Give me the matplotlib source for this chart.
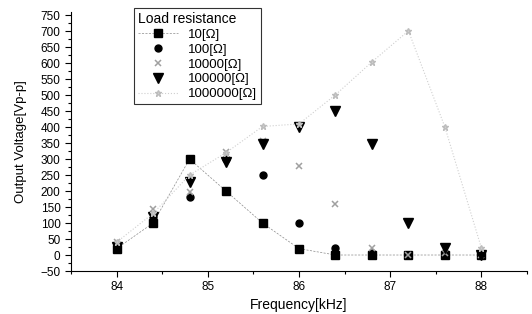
import matplotlib
matplotlib.use("Agg")
import matplotlib.pyplot as plt
from matplotlib.ticker import MultipleLocator

plt.rcParams['font.family'] = ['Liberation Sans', 'DejaVu Sans']

freq = [84.0, 84.4, 84.8, 85.2, 85.6, 86.0, 86.4, 86.8, 87.2, 87.6, 88.0]
v_10 = [20, 100, 300, 200, 100, 20, 0, 0, 0, 0, 0]
v_100 = [25, 120, 180, 300, 250, 100, 22, 5, 0, 5, 0]
v_10000 = [40, 145, 197, 323, 358, 278, 158, 22, 0, 5, 0]
v_100000 = [25, 120, 228, 291, 348, 400, 451, 346, 99, 22, 0]
v_1000000 = [40, 130, 250, 320, 402, 410, 501, 604, 701, 400, 22]
labels = ['10[\u03a9]', '100[\u03a9]', '10000[\u03a9]', '100000[\u03a9]', '1000000[\u03a9]']

fig = plt.figure(figsize=(5.32, 3.14), dpi=100)
ax = fig.add_axes([71/532, 1 - 271/314, 456/532, 259/314])

ax.plot(freq, v_10, color='#8a8a8a', ls=(0, (3, 2)), lw=0.5,
        marker='s', ms=5.5, mfc='black', mec='black', label=labels[0])
ax.plot(freq, v_100, ls='none', marker='o', ms=5, mfc='black', mec='black',
        label=labels[1])
ax.plot(freq, v_10000, ls='none', marker='x', ms=4.5, mew=1.1, color='#a0a0a0',
        label=labels[2])
ax.plot(freq, v_100000, ls='none', marker='v', ms=6.5, mfc='black', mec='black',
        label=labels[3])
ax.plot(freq, v_1000000, color='#cfcfcf', ls=':', lw=0.8,
        marker='*', ms=5, mfc='#d0d0d0', mec='#bdbdbd', label=labels[4])

ax.set_xlim(83.5, 88.5)
ax.set_ylim(-50, 760)
ax.xaxis.set_major_locator(MultipleLocator(1))
ax.xaxis.set_minor_locator(MultipleLocator(0.5))
ax.yaxis.set_major_locator(MultipleLocator(50))
ax.yaxis.set_minor_locator(MultipleLocator(25))
ax.tick_params(which='both', direction='out', labelsize=8.5, width=0.8)
ax.tick_params(which='major', length=4)
ax.tick_params(which='minor', length=2)
for s in ['top', 'right']:
    ax.spines[s].set_visible(False)
ax.set_xlabel('Frequency[kHz]', fontsize=10, labelpad=3)
ax.set_ylabel('Output Voltage[Vp-p]', fontsize=9.5, labelpad=10)

leg = ax.legend(title='Load resistance', loc='upper left',
                bbox_to_anchor=(134/532, 1 - 8/314), bbox_transform=fig.transFigure,
                fontsize=9.5, title_fontsize=10, frameon=True, fancybox=False,
                handlelength=3, labelspacing=0.2, borderpad=0.3, borderaxespad=0)
leg._legend_box.align = 'left'
leg.get_frame().set_edgecolor('black')
leg.get_frame().set_linewidth(0.8)

fig.savefig('out.png', dpi=100)
